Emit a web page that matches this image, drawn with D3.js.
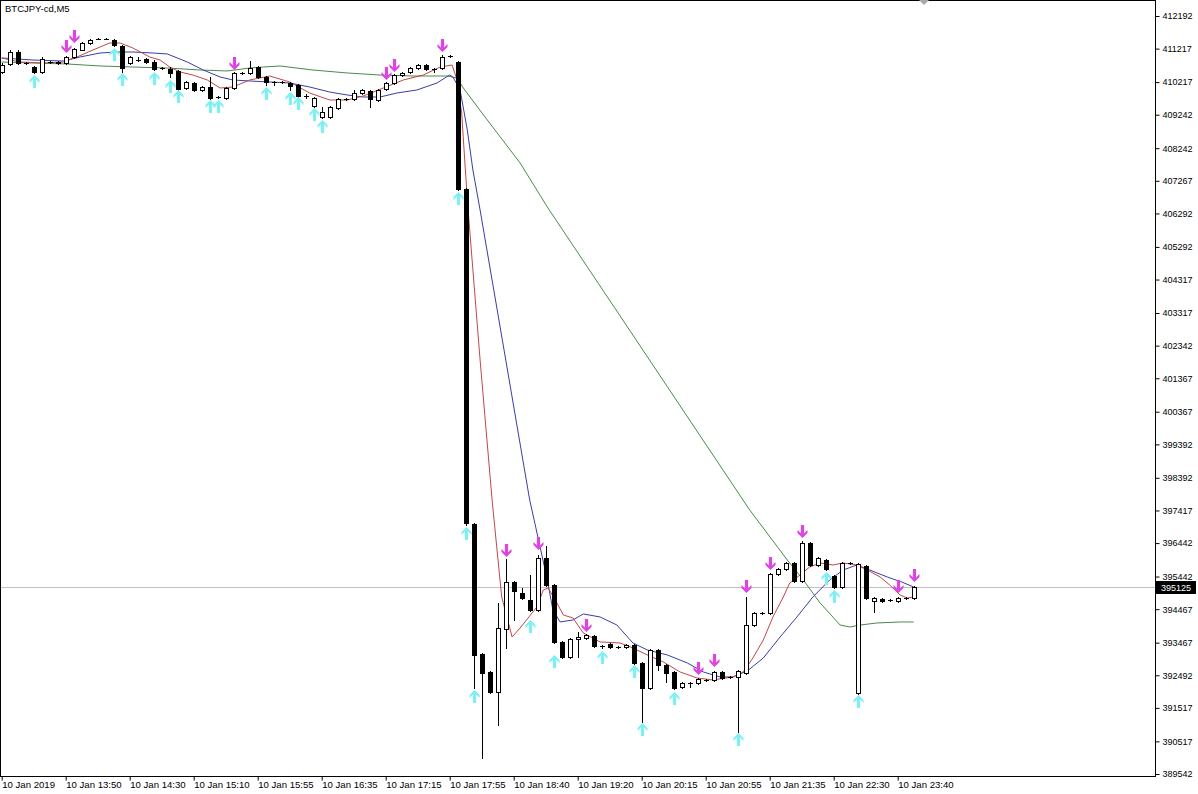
<!DOCTYPE html>
<html><head><meta charset="utf-8">
<script src="https://cdn.jsdelivr.net/npm/d3@7"></script>
<style>body{margin:0;background:#fff;} svg{display:block;font-family:"Liberation Sans",Arial,sans-serif;}</style>
</head><body><svg id="c" width="1198" height="794"></svg>
<script>
// ---- data ----
const title = "BTCJPY-cd,M5";
const opens  = [410519,410758,411116,410788,410668,410519,410817,410817,410788,410967,411176,411385,411505,411505,411475,411296,410788,410877,410907,410817,410638,410608,410549,410041,410190,409981,410070,409772,409742,410041,410489,410489,410668,410369,410220,410220,410190,410130,409802,409503,409174,409174,409443,409712,409712,409891,409951,409682,410011,410190,410429,410519,410638,410728,410608,410638,410997,410817,407023,397013,393128,392591,391993,393875,395279,394951,394742,394443,395997,395190,393487,393039,393576,393606,393666,393367,393427,393337,393337,393397,392860,392113,393248,392800,392591,392143,392262,392262,392352,392352,392591,392442,392442,392561,393994,394354,394354,395519,395668,395848,395309,396445,395788,395937,395459,395130,395848,391963,395758,394712,394772,394742,394712,394802,394802];
const highs  = [410788,411176,411176,410817,410698,410967,410847,410847,410997,411236,411415,411505,411520,411520,411505,411326,410997,410967,410937,410877,410668,410668,410578,410250,410220,410100,410369,409802,410070,410519,410519,410847,410698,410399,410250,410250,410220,410160,409861,409772,409473,409503,409742,409742,409981,410011,409981,410011,410220,410459,410519,410668,410758,410758,410638,411027,411027,410847,407053,397043,393158,392621,394652,395967,395309,395101,395489,396087,396356,395220,393517,393606,393785,393726,393696,393397,393457,393367,393427,393427,392890,393278,393278,392830,392621,392292,392292,392412,392382,392621,392621,392472,392651,394832,394383,394383,395549,395698,395878,395878,396505,396475,396027,395967,395489,395878,395878,395848,395788,394832,394802,394772,394832,394832,395160];
const lows   = [410489,410728,410758,410758,410489,410489,410788,410758,410758,410937,411176,411355,411490,411490,411296,410519,410758,410847,410788,410578,410608,410369,409981,410011,409951,409951,409712,409742,409712,410011,410459,410459,410339,410130,410130,410190,409981,409772,409742,409473,409144,409144,409413,409682,409682,409861,409473,409652,409981,410160,410399,410489,410608,410578,410519,410608,410967,406993,396983,392113,390021,391963,391007,393308,394144,394772,394413,394413,395160,393457,393009,393009,393039,393576,393337,393308,393308,393308,393308,392830,391097,392083,392651,392292,392083,392113,392143,392232,392322,392322,392382,392412,390798,392531,393964,394324,394324,395489,395638,395279,395279,395758,395758,395638,395101,395101,395818,391933,394772,394383,394682,394712,394682,394772,394772];
const closes = [410728,411116,410788,410788,410519,410907,410817,410788,410967,411206,411385,411475,411505,411505,411326,410638,410967,410877,410817,410608,410638,410489,410011,410220,409981,410070,409742,409772,410041,410489,410489,410638,410369,410220,410220,410220,410100,409802,409802,409742,409323,409473,409712,409712,409891,409981,409712,409981,410190,410429,410489,410638,410728,410608,410608,410967,410997,407023,397043,393099,392561,391993,393905,395279,395011,394802,394443,395997,395190,393487,393039,393576,393636,393696,393367,393367,393337,393337,393397,392860,392113,393248,392800,392561,392113,392262,392262,392382,392352,392591,392412,392442,392621,393994,394354,394354,395519,395668,395848,395309,396445,395788,395997,395668,395130,395848,395848,395818,394802,394802,394712,394742,394802,394802,395125];

const xTickBars   = [0,8,16,24,32,40,48,56,64,72,80,88,96,104,112];
const xTickLabels = ["10 Jan 2019","10 Jan 13:50","10 Jan 14:30","10 Jan 15:10","10 Jan 15:55","10 Jan 16:35","10 Jan 17:15","10 Jan 17:55","10 Jan 18:40","10 Jan 19:20","10 Jan 20:15","10 Jan 20:55","10 Jan 21:35","10 Jan 22:30","10 Jan 23:40"];
const yTicks = [412192,411217,410217,409242,408242,407267,406292,405292,404317,403317,402342,401367,400367,399392,398392,397417,396442,395442,394467,393467,392492,391517,390517,389542];
const bidPrice = 395125;

// signal arrows: bar index and price at arrow tip
const upBars    = [4,14,15,19,21,22,26,27,33,36,37,39,40,57,58,59,66,69,75,79,80,84,92,103,104,107];
const upPrices  = [410429,411236,410489,410519,410280,409981,409682,409682,410070,409921,409772,409443,409084,406933,396923,392053,394144,393099,393218,392800,391067,391993,390768,395579,395041,391903];
const downBars   = [8,9,29,48,49,55,63,67,73,87,89,93,96,100,112,114];
const downPrices = [411086,411385,410578,410280,410519,411116,396027,396236,393785,392501,392740,394951,395638,396595,394951,395279];

// moving-average lines: bar position and price
const fastX = [0,2.3,5.2,7.7,9.4,11.4,13.5,14.8,16.4,18.5,19.8,21,22.3,23.9,25.7,27.3,28.9,31,33.5,36,38.5,41,43.2,45.2,47.7,50.2,52.7,54.8,56.3,56.8,57.5,57.9,58.3,59.8,61.3,62.5,63.8,64.8,65.8,66.9,67.7,68.3,69.2,70.2,71.4,72.7,74.8,77.3,78.9,80.7,82.7,84.8,86.9,88.9,91.4,92.7,93.9,95.2,96.4,97.7,98.5,99.8,101,102.3,103.9,105.2,106.9,108.2,109.8,111,112.3,113.2,114];
const fastY = [410937,410817,410788,410817,410967,411176,411385,411385,411236,410967,410877,410668,410519,410429,410280,410041,410070,410280,410399,410220,409891,409682,409682,409802,410041,410280,410429,410668,410728,410369,409294,407800,406395,401913,397730,394832,393636,393905,394204,394533,395041,395101,394742,394294,394204,393756,393487,393457,393308,393099,392890,392591,392412,392352,392442,392591,393009,393547,394234,394832,395250,395489,395728,395848,395788,395848,395788,395638,395429,395190,394891,394802,394832];
const midX = [0,3.9,7.7,9.8,12.3,14.4,16.4,18.9,20.7,23.2,25.2,27.3,28.9,31,33.5,36,38.5,41,43.2,45.2,47.3,49.4,51.9,54.4,56,56.4,57.3,58.2,58.9,59.8,66,67.3,68.2,68.9,69.8,71.4,72.7,74.8,76.9,78.9,80.7,83.2,85.7,87.7,89.8,91.4,93.2,95.2,97.3,99.4,101.4,103.5,105.2,106.9,108.5,110.7,112.5,114];
const midY = [410937,410877,410847,410967,411086,411116,411116,411086,411057,410817,410578,410369,410280,410250,410220,410190,410070,409921,409831,409772,409772,409891,409981,410190,410429,410369,409981,408786,407590,406395,397730,396326,395341,394443,394085,394144,394324,394234,393994,393457,393248,393099,392860,392591,392442,392442,392621,393009,393636,394234,394832,395341,395638,395788,395638,395429,395279,395130];
const slowX = [0,3.9,8.2,12.3,16.4,20.7,24.8,28.2,31,32.7,34.8,38.9,43.2,47.3,51.4,55.7,56.9,57.7,60.7,64.8,68.2,93.5,98.2,100.2,102.3,104.8,106,107.3,109.4,112.3,114];
const slowY = [410817,410788,410758,410698,410668,410638,410578,410549,410638,410668,410698,410578,410489,410429,410399,410399,410339,410041,409084,407800,406485,397431,395937,395341,394652,393994,393935,393994,394055,394085,394085];

// ---- drawing ----
const FONT = "'Liberation Sans',Arial,sans-serif";
const svg = d3.select("#c");
const plotL = 0, plotR = 1155, plotT = 0, plotB = 776;
const x = d3.scaleLinear().domain([0, 114]).range([1.7, 913.7]);
const y = d3.scaleLinear().domain([389542, 412192]).range([774, 16]);

// frame
svg.append("rect").attr("x", plotL + 0.5).attr("y", plotT + 0.5)
  .attr("width", plotR - plotL).attr("height", plotB - plotT)
  .attr("fill", "#fff").attr("stroke", "#000").attr("stroke-width", 1);

// shift marker
svg.append("path").attr("d", "M919,0 L929,0 L924,5 Z").attr("fill", "#a8a8a8");

// bid line
svg.append("line").attr("x1", plotL + 1).attr("x2", plotR)
  .attr("y1", Math.round(y(bidPrice)) + 0.5).attr("y2", Math.round(y(bidPrice)) + 0.5)
  .attr("stroke", "#c0c0c0").attr("stroke-width", 1);

// moving averages
function drawLine(xs, ys, color) {
  const pts = xs.map((b, i) => [x(b), y(ys[i])]);
  svg.append("path").attr("d", d3.line()(pts)).attr("fill", "none")
    .attr("stroke", color).attr("stroke-width", 1);
}
drawLine(slowX, slowY, "#4a8a4a");
drawLine(midX, midY, "#3c3ca8");
drawLine(fastX, fastY, "#c04848");

// candles
const bars = d3.range(opens.length).map(i => ({i, o: opens[i], h: highs[i], l: lows[i], c: closes[i]}));
const g = svg.append("g");
bars.forEach(d => {
  const cx = Math.round(x(d.i)) + 0.5;
  g.append("line").attr("x1", cx).attr("x2", cx)
    .attr("y1", Math.round(y(d.h))).attr("y2", Math.round(y(d.l)) + 1)
    .attr("stroke", "#000").attr("stroke-width", 1);
  const yo = Math.round(y(d.o)), yc = Math.round(y(d.c));
  const top = Math.min(yo, yc), bot = Math.max(yo, yc);
  if (bot - top < 1) {
    g.append("line").attr("x1", cx - 2.5).attr("x2", cx + 2.5)
      .attr("y1", top + 0.5).attr("y2", top + 0.5).attr("stroke", "#000");
  } else {
    g.append("rect").attr("x", cx - 2).attr("y", top + 0.5)
      .attr("width", 4).attr("height", bot - top)
      .attr("fill", d.c >= d.o ? "#fff" : "#000").attr("stroke", "#000").attr("stroke-width", 1);
  }
});

// arrows
const upShape = "M0,0 L5,5 L5,8 L1.6,4.6 L1.6,13 L-1.6,13 L-1.6,4.6 L-5,8 L-5,5 Z";
const downShape = "M0,0 L5,-5 L5,-8 L1.6,-4.6 L1.6,-13 L-1.6,-13 L-1.6,-4.6 L-5,-8 L-5,-5 Z";
upBars.forEach((b, k) => {
  svg.append("path").attr("d", upShape)
    .attr("transform", `translate(${Math.round(x(b)) + 0.5},${y(upPrices[k])})`)
    .attr("fill", "#7ef0f4");
});
downBars.forEach((b, k) => {
  svg.append("path").attr("d", downShape)
    .attr("transform", `translate(${Math.round(x(b)) + 0.5},${y(downPrices[k])})`)
    .attr("fill", "#de44e4");
});

// right axis
const yAxis = d3.axisRight(y).tickValues(yTicks).tickFormat(d3.format("d")).tickSize(4).tickSizeOuter(0);
const ya = svg.append("g").attr("transform", `translate(${plotR + 0.5},0)`).call(yAxis);
ya.select(".domain").remove();
ya.selectAll("text").attr("font-size", 9).attr("fill", "#000").attr("x", 7)
  .style("font-family", FONT);
ya.selectAll("line").attr("stroke", "#000");

// bottom axis
const xAxis = d3.axisBottom(x).tickValues(xTickBars)
  .tickFormat((d, i) => xTickLabels[i]).tickSize(4).tickSizeOuter(0);
const xa = svg.append("g").attr("transform", `translate(0,${plotB + 0.5})`).call(xAxis);
xa.select(".domain").remove();
xa.selectAll("text").attr("font-size", 9.6).attr("fill", "#000")
  .attr("text-anchor", "start").attr("dx", 0).attr("y", 5)
  .style("font-family", FONT);
xa.selectAll("line").attr("stroke", "#000");

// bid price label
const by = Math.round(y(bidPrice));
svg.append("rect").attr("x", plotR + 1).attr("y", by - 6).attr("width", 40).attr("height", 13).attr("fill", "#000");
svg.append("text").attr("x", plotR + 6).attr("y", by + 4).attr("font-size", 9).attr("fill", "#fff")
  .style("font-family", FONT).text(d3.format("d")(bidPrice));

// title
svg.append("text").attr("x", 5).attr("y", 12).attr("font-size", 9.5).attr("fill", "#000")
  .style("font-family", FONT).text(title);
</script></body></html>
